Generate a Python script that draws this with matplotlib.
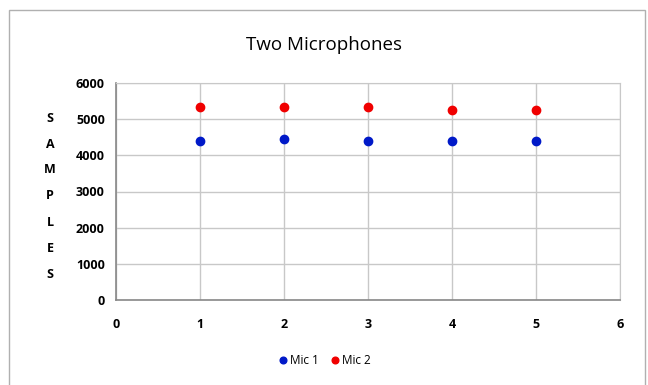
import matplotlib
matplotlib.use('Agg')
import matplotlib.pyplot as plt
from matplotlib.patches import Rectangle

plt.rcParams['font.family'] = ['Open Sans', 'DejaVu Sans']

# data
trial = [1, 2, 3, 4, 5]
mic1 = [4410, 4450, 4410, 4410, 4410]
mic2 = [5340, 5340, 5340, 5240, 5240]
y_letters = list('SAMPLES')

W, H = 648, 385
fig = plt.figure(figsize=(W / 100, H / 100), dpi=100)

# outer chart frame
fig.patches.append(Rectangle((9 / W, -0.01), 636 / W, 1 - 10 / H + 0.01,
                             transform=fig.transFigure, fill=False,
                             edgecolor='#b0b0b0', linewidth=1.0))

ax = fig.add_axes([116 / W, (H - 300) / H, 504 / W, 217 / H])
ax.scatter(trial, mic1, s=36, color='#0019c8', label='Mic 1', zorder=3)
ax.scatter(trial, mic2, s=36, color='#f00000', label='Mic 2', zorder=3)

ax.set_xlim(0, 6)
ax.set_ylim(0, 6000)
ax.set_xticks(range(0, 7))
ax.set_yticks(range(0, 6001, 1000))
ax.grid(True, color='#c8c8c8', linewidth=1.0)
ax.set_axisbelow(True)
for s in ['top', 'right']:
    ax.spines[s].set_color('#c8c8c8')
for s in ['left', 'bottom']:
    ax.spines[s].set_color('#888888')
    ax.spines[s].set_linewidth(1.2)
ax.tick_params(length=0, labelsize=9)
ax.tick_params(axis='x', pad=13)
ax.tick_params(axis='y', pad=8)
for lbl in ax.get_xticklabels() + ax.get_yticklabels():
    lbl.set_fontweight('bold')

fig.text(0.5, 1 - 45 / H, 'Two Microphones', ha='center', va='center', fontsize=13.5)

# vertical stacked axis label
for i, ch in enumerate(y_letters):
    fig.text(50 / W, 1 - (118 + i * 26) / H, ch, ha='center', va='center',
             fontsize=9, fontweight='bold')

ax.legend(loc='center', bbox_to_anchor=(0.5, (H - 360) / H), bbox_transform=fig.transFigure,
          ncol=2, frameon=False, fontsize=8.5, handletextpad=0.1, columnspacing=0.9,
          markerscale=0.8, handlelength=1.0)

fig.savefig('out.png', dpi=100)
